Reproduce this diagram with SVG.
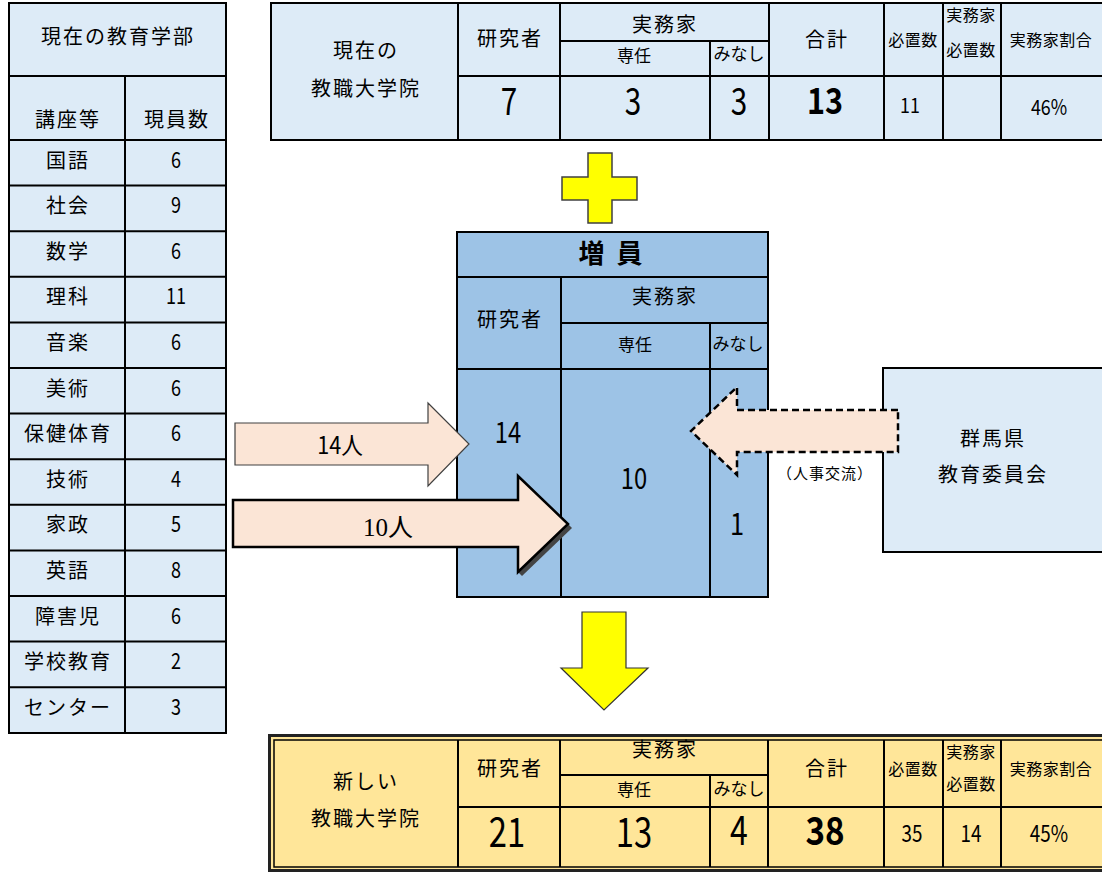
<svg xmlns="http://www.w3.org/2000/svg" width="1102" height="872" viewBox="0 0 1102 872">
<style>
text{font-family:"Noto Sans CJK JP","Noto Sans",sans-serif;fill:#000;text-anchor:middle}
.j{font-size:20px;letter-spacing:2px}
.s{font-size:16px;letter-spacing:0.5px}
.m{font-size:17px}
.n{font-size:22px}
.ln{stroke:#000;stroke-width:2;fill:none}
.lb{fill:#DDEBF7}
.mb{fill:#9DC3E6}
.yb{fill:#FFE699}
</style>
<rect width="1102" height="872" fill="#fff"/>

<g id="faculty-table">
<rect x="9" y="3" width="217" height="730" class="lb"/>
<rect x="9" y="3" width="217" height="730" class="ln"/>
<path class="ln" d="M9 76H226M9 140H226M9 185.6H226M9 231.2H226M9 276.8H226M9 322.4H226M9 368H226M9 413.6H226M9 459.2H226M9 504.8H226M9 550.4H226M9 596H226M9 641.6H226M9 687.2H226M125 76V733"/>
<text class="j" x="118" y="44">現在の教育学部</text>
<text class="j" x="68" y="127">講座等</text>
<text class="j" x="177" y="127">現員数</text>
<text class="j" x="68" y="167.5">国語</text><text class="n" transform="translate(176,167.5) scale(0.82,1)">6</text>
<text class="j" x="68" y="213.1">社会</text><text class="n" transform="translate(176,213.1) scale(0.82,1)">9</text>
<text class="j" x="68" y="258.7">数学</text><text class="n" transform="translate(176,258.7) scale(0.82,1)">6</text>
<text class="j" x="68" y="304.3">理科</text><text class="n" transform="translate(176,304.3) scale(0.82,1)">11</text>
<text class="j" x="68" y="349.9">音楽</text><text class="n" transform="translate(176,349.9) scale(0.82,1)">6</text>
<text class="j" x="68" y="395.5">美術</text><text class="n" transform="translate(176,395.5) scale(0.82,1)">6</text>
<text class="j" x="68" y="441.1">保健体育</text><text class="n" transform="translate(176,441.1) scale(0.82,1)">6</text>
<text class="j" x="68" y="486.7">技術</text><text class="n" transform="translate(176,486.7) scale(0.82,1)">4</text>
<text class="j" x="68" y="532.3">家政</text><text class="n" transform="translate(176,532.3) scale(0.82,1)">5</text>
<text class="j" x="68" y="577.9">英語</text><text class="n" transform="translate(176,577.9) scale(0.82,1)">8</text>
<text class="j" x="68" y="623.5">障害児</text><text class="n" transform="translate(176,623.5) scale(0.82,1)">6</text>
<text class="j" x="68" y="669.1">学校教育</text><text class="n" transform="translate(176,669.1) scale(0.82,1)">2</text>
<text class="j" x="68" y="714.7">センター</text><text class="n" transform="translate(176,714.7) scale(0.82,1)">3</text>
</g>

<g id="current-grad-school">
<rect x="271" y="3" width="840" height="137" class="lb"/>
<rect x="271" y="3" width="840" height="137" class="ln"/>
<path class="ln" d="M458 3V140M560 3V140M769 3V140M884 3V140M943 3V140M1001 3V140M710 41V140M458 76H1102M560 41H769"/>
<text class="j" x="366" y="58">現在の</text>
<text class="j" x="366" y="96">教職大学院</text>
<text class="j" x="510" y="46">研究者</text>
<text class="j" x="665" y="32">実務家</text>
<text class="m" x="634" y="62">専任</text>
<text class="m" x="739" y="60">みなし</text>
<text class="j" x="827" y="47">合計</text>
<text class="s" x="913" y="46">必置数</text>
<text class="s" x="971" y="21">実務家</text>
<text class="s" x="971" y="56">必置数</text>
<text class="s" x="1051" y="46">実務家割合</text>
<text style="font-size:38px" transform="translate(509,115) scale(0.78,1)">7</text>
<text style="font-size:38px" transform="translate(633,115) scale(0.78,1)">3</text>
<text style="font-size:38px" transform="translate(739,115) scale(0.78,1)">3</text>
<text style="font-size:36px;font-weight:bold" transform="translate(825,114) scale(0.85,1)">13</text>
<text style="font-size:21px" transform="translate(910,113) scale(0.85,1)">11</text>
<text style="font-size:21px" transform="translate(1049,115) scale(0.85,1)">46%</text>
</g>

<g id="increase-block">
<rect x="457" y="232" width="311" height="365" class="mb"/>
<rect x="457" y="232" width="311" height="365" class="ln"/>
<path class="ln" d="M457 277H768M561 277V597M561 323H768M710 323V597M457 369H768"/>
<text x="612" y="263" style="font-size:26px;font-weight:bold;letter-spacing:3px">増 員</text>
<text class="j" x="510" y="327">研究者</text>
<text class="j" x="665" y="304">実務家</text>
<text class="m" x="635" y="351">専任</text>
<text class="m" x="738" y="350">みなし</text>
<text style="font-size:29px" transform="translate(508,443) scale(0.82,1)">14</text>
<text style="font-size:29px" transform="translate(634,489) scale(0.82,1)">10</text>
<text style="font-size:31px" transform="translate(737,535) scale(0.82,1)">1</text>
</g>

<g id="gunma-board">
<rect x="883" y="368" width="230" height="184" class="lb"/>
<rect x="883" y="368" width="230" height="184" class="ln"/>
<text class="j" x="993" y="446">群馬県</text>
<text class="j" x="993" y="482">教育委員会</text>
</g>

<g id="new-grad-school">
<rect x="269.5" y="735.5" width="840" height="135" class="yb"/>
<rect x="269.5" y="735.5" width="840" height="135" fill="none" stroke="#222" stroke-width="3"/>
<rect x="274" y="740" width="840" height="127" fill="none" stroke="#000" stroke-width="1.5"/>
<path class="ln" d="M458 740V867M560 740V867M768 740V867M884 740V867M943 740V867M1001 740V867M710 775V867M458 807H1102M560 775H768"/>
<text class="j" x="366" y="789">新しい</text>
<text class="j" x="366" y="826">教職大学院</text>
<text class="j" x="510" y="776">研究者</text>
<text class="j" x="665" y="757">実務家</text>
<text class="m" x="634" y="796">専任</text>
<text class="m" x="739" y="795">みなし</text>
<text class="j" x="827" y="776">合計</text>
<text class="s" x="913" y="775">必置数</text>
<text class="s" x="971" y="758">実務家</text>
<text class="s" x="971" y="790">必置数</text>
<text class="s" x="1051" y="775">実務家割合</text>
<text style="font-size:41px" transform="translate(507,847) scale(0.8,1)">21</text>
<text style="font-size:41px" transform="translate(634,847) scale(0.8,1)">13</text>
<text style="font-size:40px" transform="translate(739,845) scale(0.8,1)">4</text>
<text style="font-size:39px;font-weight:bold" transform="translate(825,845) scale(0.85,1)">38</text>
<text style="font-size:23px" transform="translate(912,842) scale(0.82,1)">35</text>
<text style="font-size:23px" transform="translate(971,842) scale(0.82,1)">14</text>
<text style="font-size:23px" transform="translate(1049,842) scale(0.82,1)">45%</text>
</g>

<g id="connectors">
<polygon points="588,153 612,153 612,177 637,177 637,200 612,200 612,223 588,223 588,200 562,200 562,177 588,177" fill="#FFFF00" stroke="#404040" stroke-width="1.5"/>
<polygon points="582,612 626,612 626,668 648,668 604,710 561,668 582,668" fill="#FFFF00" stroke="#333" stroke-width="1.2"/>
<polygon points="235,423 428,423 428,403 469,444 428,486 428,465 235,465" fill="#FBE5D6" stroke="#404040" stroke-width="1.2"/>
<polygon points="568,524 572,528 522,576 518,572" fill="#444"/>
<polygon points="233,500 518,500 518,476 568,524 518,572 518,547 233,547" fill="#FBE5D6" stroke="#000" stroke-width="2.5"/>
<polygon points="898,410 737,410 737,387 691,431 737,475 737,452 898,452" fill="#FBE5D6" stroke="#000" stroke-width="2.5" stroke-dasharray="7,4"/>
<text style="font-size:24px" transform="translate(340,454) scale(0.9,1)">14人</text>
<text x="388" y="536" style="font-size:25px;font-family:'Liberation Serif','Noto Sans CJK JP',serif">10人</text>
<text x="825" y="479" style="font-size:15px;letter-spacing:1px">（人事交流）</text>
</g>
</svg>
